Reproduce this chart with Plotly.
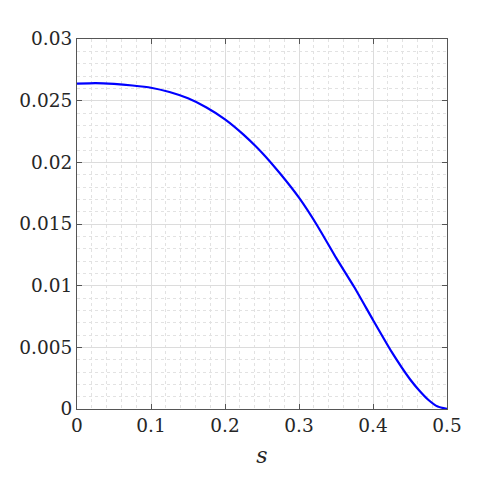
import plotly.graph_objects as go

s_vals = [0.0, 0.025, 0.05, 0.075, 0.1, 0.125, 0.15, 0.175, 0.2, 0.225, 0.25,
          0.275, 0.3, 0.325, 0.35, 0.375, 0.4, 0.425, 0.45, 0.4625, 0.475, 0.4875, 0.5]
f_vals = [0.02638, 0.02643, 0.02636, 0.02623, 0.02605, 0.02570, 0.02519, 0.02445,
          0.02349, 0.02225, 0.02078, 0.01905, 0.01713, 0.01484, 0.01227, 0.00985,
          0.00722, 0.00465, 0.00241, 0.00150, 0.00073, 0.00020, 0.0]

x_ticks = [0, 0.1, 0.2, 0.3, 0.4, 0.5]
x_labels = ["0", "0.1", "0.2", "0.3", "0.4", "0.5"]
y_ticks = [0, 0.005, 0.01, 0.015, 0.02, 0.025, 0.03]
y_labels = ["0", "0.005", "0.01", "0.015", "0.02", "0.025", "0.03"]

font = "DejaVu Serif, serif"

fig = go.Figure()
fig.add_trace(go.Scatter(x=s_vals, y=f_vals, mode="lines",
                         line=dict(color="#0000ff", width=2.2, shape="spline", smoothing=0.5)))

axis_style = dict(
    showline=True, linecolor="#555555", linewidth=1, mirror="ticks",
    ticks="inside", ticklen=5, tickcolor="#555555",
    showgrid=True, gridcolor="#dcdcdc", gridwidth=1,
    zeroline=False, automargin=False,
    tickfont=dict(family=font, size=18.5, color="#262626"),
)

fig.update_xaxes(
    range=[0, 0.5], tickvals=x_ticks, ticktext=x_labels,
    minor=dict(dtick=0.02, showgrid=True, gridcolor="#e2e2e2", griddash="dot", ticks=""),
    title=dict(text="<i>s</i>", font=dict(family=font, size=22, color="#262626"), standoff=12),
    **axis_style,
)
fig.update_yaxes(
    range=[0, 0.03], tickvals=y_ticks, ticktext=y_labels,
    minor=dict(dtick=0.001, showgrid=True, gridcolor="#e2e2e2", griddash="dot", ticks=""),
    **axis_style,
)

fig.update_layout(
    width=500, height=500,
    margin=dict(l=69, r=61, t=31, b=99),
    plot_bgcolor="white", paper_bgcolor="white",
    showlegend=False,
)

fig.write_html("out.html")
